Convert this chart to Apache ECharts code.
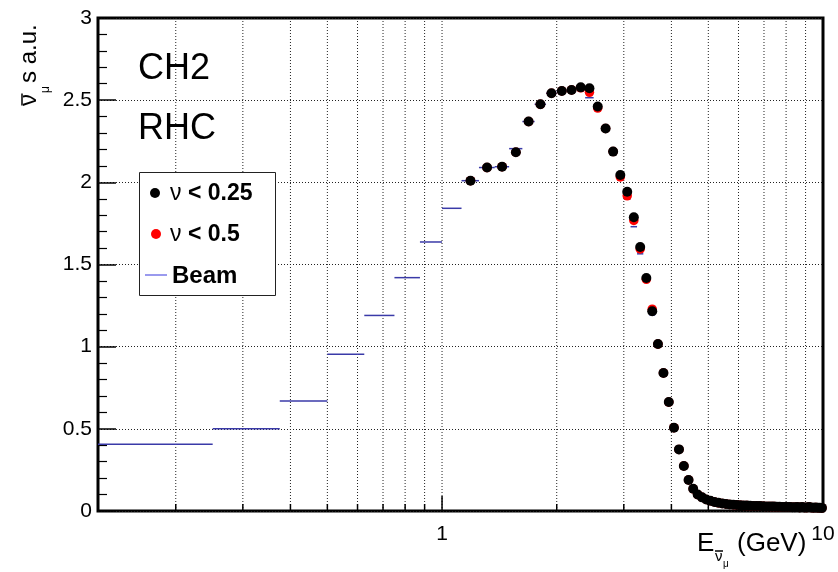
<!DOCTYPE html>
<html><head><meta charset="utf-8">
<script src="https://cdn.jsdelivr.net/npm/echarts@6/dist/echarts.min.js"></script>
<style>html,body{margin:0;padding:0;background:#fff}#c{width:838px;height:572px}</style>
</head><body><div id="c"></div>
<script>
// ---- data ----
const binWidth = 0.125; // GeV
const beamLowCenters = [0.1875, 0.3125, 0.4375, 0.5625, 0.6875, 0.8125, 0.9375, 1.0625];
const beamLowValues  = [0.406, 0.500, 0.670, 0.954, 1.190, 1.420, 1.637, 1.842];
const dataCenters = [1.1875,1.3125,1.4375,1.5625,1.6875,1.8125,1.9375,2.0625,2.1875,2.3125,
  2.4375,2.5625,2.6875,2.8125,2.9375,3.0625,3.1875,3.3125,3.4375,3.5625,
  3.6875,3.8125,3.9375,4.0625,4.1875,4.3125,4.4375,4.5625,4.6875,4.8125,
  4.9375,5.0625,5.1875,5.3125,5.4375,5.5625,5.6875,5.8125,5.9375,6.0625,
  6.1875,6.3125,6.4375,6.5625,6.6875,6.8125,6.9375,7.0625,7.1875,7.3125,
  7.4375,7.5625,7.6875,7.8125,7.9375,8.0625,8.1875,8.3125,8.4375,8.5625,
  8.6875,8.8125,8.9375,9.0625,9.1875,9.3125,9.4375,9.5625,9.6875,9.8125,9.9375];
const nuLt025 = [2.010,2.090,2.095,2.183,2.370,2.475,2.542,2.556,2.562,2.578,
  2.572,2.462,2.328,2.187,2.045,1.943,1.787,1.606,1.418,1.215,
  1.016,0.840,0.663,0.507,0.375,0.274,0.189,0.135,0.100,0.083,
  0.070,0.062,0.055,0.050,0.046,0.043,0.040,0.038,0.036,0.035,
  0.034,0.033,0.032,0.031,0.030,0.030,0.029,0.028,0.028,0.027,
  0.027,0.026,0.026,0.025,0.025,0.024,0.024,0.023,0.023,0.025,
  0.022,0.024,0.022,0.021,0.024,0.021,0.020,0.022,0.020,0.020,0.019];
const nuLt05 = [2.010,2.090,2.095,2.183,2.370,2.475,2.542,2.556,2.562,2.575,
  2.548,2.452,2.328,2.187,2.033,1.918,1.768,1.595,1.410,1.228,
  1.016,0.840,0.663,0.507,0.375,0.274,0.189,0.135,0.100,0.083,
  0.070,0.062,0.055,0.050,0.046,0.043,0.040,0.038,0.036,0.035,
  0.034,0.033,0.032,0.031,0.030,0.030,0.029,0.028,0.028,0.027,
  0.027,0.026,0.026,0.025,0.025,0.024,0.024,0.023,0.023,0.025,
  0.022,0.024,0.022,0.021,0.024,0.021,0.020,0.022,0.020,0.020,0.019];
const beamHigh = [2.010,2.090,2.095,2.205,2.370,2.475,2.542,2.556,2.562,2.578,
  2.515,2.445,2.328,2.187,2.045,1.900,1.730,1.565,1.410,1.193,
  1.016,0.840,0.663,0.507,0.375,0.274,0.189,0.135,0.100,0.083,
  0.070,0.062,0.055,0.050,0.046,0.043,0.040,0.038,0.036,0.035,
  0.034,0.033,0.032,0.031,0.030,0.030,0.029,0.028,0.028,0.027,
  0.027,0.026,0.026,0.025,0.025,0.024,0.024,0.023,0.023,0.025,
  0.022,0.024,0.022,0.021,0.024,0.021,0.020,0.022,0.020,0.020,0.019];
const xGridTicks = [0.2,0.3,0.4,0.5,0.6,0.7,0.8,0.9,1,2,3,4,5,6,7,8,9];
const xMajorTicks = [1, 10];
const xMin = 0.125, xMax = 10;
const yMin = 0, yMax = 3, yStep = 0.5;

// ---- chart ----
const FONT = '"Liberation Sans", Arial, Helvetica, sans-serif';
const chart = echarts.init(document.getElementById('c'), null, {renderer: 'canvas'});

const beamData = beamLowCenters.map((c, i) => [c, beamLowValues[i]])
  .concat(dataCenters.map((c, i) => [c, beamHigh[i]]));
const gridData = xGridTicks.map(v => [v, yMin]);
const tickData = xGridTicks.concat([10]).map(v => [v, yMin]);

const option = {
  animation: false,
  backgroundColor: '#fff',
  grid: {left: 98, top: 18, right: 15, bottom: 61, show: true, borderColor: '#000', borderWidth: 3, backgroundColor: 'transparent'},
  xAxis: {
    type: 'log', logBase: 10, min: xMin, max: xMax,
    axisLine: {show: false}, axisTick: {show: false}, splitLine: {show: false}, minorTick: {show: false},
    axisLabel: {
      show: true, margin: 13, fontSize: 21, color: '#000', fontFamily: FONT,
      showMinLabel: false,
      formatter: v => {
        const l = Math.log10(v);
        return (Math.abs(l - Math.round(l)) < 1e-6 && v >= 1) ? String(Math.round(v)) : '';
      }
    }
  },
  yAxis: {
    type: 'value', min: yMin, max: yMax, interval: yStep,
    axisLine: {show: false},
    axisTick: {show: true, inside: true, length: 18, lineStyle: {color: '#000', width: 1.5}},
    minorTick: {show: true, splitNumber: 5, length: 9, lineStyle: {color: '#000', width: 1.2}},
    splitLine: {show: true, lineStyle: {color: '#222', width: 1, type: [1, 2]}},
    axisLabel: {margin: 6, fontSize: 21, color: '#000', fontFamily: FONT}
  },
  series: [
    { // vertical dotted grid lines
      type: 'custom', z: 1, silent: true, clip: true,
      data: gridData, encode: {x: 0, y: 1},
      renderItem: (params, api) => {
        const v = api.value(0);
        const a = api.coord([v, yMin]), b = api.coord([v, yMax]);
        return {type: 'line', shape: {x1: a[0], y1: a[1], x2: b[0], y2: b[1]},
          style: {stroke: '#222', lineWidth: 1, lineDash: [1, 2]}};
      }
    },
    { // x-axis ticks (inside)
      type: 'custom', z: 5, silent: true, clip: false,
      data: tickData, encode: {x: 0, y: 1},
      renderItem: (params, api) => {
        const v = api.value(0);
        const a = api.coord([v, yMin]);
        const major = xMajorTicks.includes(v);
        const len = major ? 15 : 7;
        return {type: 'line', shape: {x1: a[0], y1: a[1], x2: a[0], y2: a[1] - len},
          style: {stroke: '#000', lineWidth: 1.5}};
      }
    },
    { // Beam histogram (horizontal bin lines)
      name: 'Beam', type: 'custom', z: 2, silent: true, clip: true,
      data: beamData, encode: {x: 0, y: 1},
      renderItem: (params, api) => {
        const c = api.value(0), v = api.value(1);
        const a = api.coord([c - binWidth / 2, v]);
        const b = api.coord([c + binWidth / 2, v]);
        return {type: 'line', shape: {x1: a[0], y1: a[1], x2: b[0], y2: b[1]},
          style: {stroke: '#3a3aa8', lineWidth: 1.5}};
      }
    },
    {
      name: 'ν < 0.5', type: 'scatter', z: 3, symbol: 'circle', symbolSize: 9.5,
      itemStyle: {color: '#ff0000', opacity: 1}, silent: true,
      data: dataCenters.map((c, i) => [c, nuLt05[i]])
    },
    {
      name: 'ν < 0.25', type: 'scatter', z: 4, symbol: 'circle', symbolSize: 10,
      itemStyle: {color: '#000000', opacity: 1}, silent: true,
      data: dataCenters.map((c, i) => [c, nuLt025[i]])
    }
  ],
  graphic: [
    // labels
    {type: 'text', x: 138, y: 69.5, z: 100, style: {text: 'CH2', font: '36px ' + FONT, fill: '#000', align: 'left', verticalAlign: 'middle'}},
    {type: 'text', x: 138, y: 129.5, z: 100, style: {text: 'RHC', font: '36px ' + FONT, fill: '#000', align: 'left', verticalAlign: 'middle'}},
    // legend box
    {type: 'rect', z: 100, shape: {x: 139.5, y: 172.5, width: 136, height: 123},
      style: {fill: '#fff', stroke: '#222', lineWidth: 1}},
    {type: 'circle', z: 101, shape: {cx: 155, cy: 193, r: 5}, style: {fill: '#000'}},
    {type: 'text', x: 170, y: 194, z: 101, style: {
      text: '{n|ν}{b| < 0.25}', verticalAlign: 'middle', align: 'left',
      rich: {n: {font: '23px ' + FONT, fill: '#000'}, b: {font: 'bold 23px ' + FONT, fill: '#000'}}}},
    {type: 'circle', z: 101, shape: {cx: 156, cy: 234, r: 5}, style: {fill: '#ff0000'}},
    {type: 'text', x: 170, y: 235, z: 101, style: {
      text: '{n|ν}{b| < 0.5}', verticalAlign: 'middle', align: 'left',
      rich: {n: {font: '23px ' + FONT, fill: '#000'}, b: {font: 'bold 23px ' + FONT, fill: '#000'}}}},
    {type: 'line', z: 101, shape: {x1: 145, y1: 275, x2: 167, y2: 275}, style: {stroke: '#7878e8', lineWidth: 1.5}},
    {type: 'text', x: 172, y: 276, z: 101, style: {text: 'Beam', font: 'bold 24px ' + FONT, fill: '#000', align: 'left', verticalAlign: 'middle'}},
    // x-axis title: E_{ν̄_μ} (GeV)
    {type: 'group', z: 100, children: [
      {type: 'text', x: 697, y: 553 - 9, style: {text: 'E', font: '26px ' + FONT, fill: '#000', verticalAlign: 'middle'}},
      {type: 'text', x: 715, y: 562 - 5, style: {text: 'ν', font: '15px ' + FONT, fill: '#000', verticalAlign: 'middle'}},
      {type: 'line', shape: {x1: 715, y1: 551, x2: 723, y2: 551}, style: {stroke: '#000', lineWidth: 1.5}},
      {type: 'text', x: 723, y: 568 - 3.5, style: {text: 'μ', font: '10px ' + FONT, fill: '#000', verticalAlign: 'middle'}},
      {type: 'text', x: 737, y: 553 - 9, style: {text: '(GeV)', font: '26px ' + FONT, fill: '#000', verticalAlign: 'middle'}}
    ]},
    // y-axis title: ν̄_μ s a.u. (rotated)
    {type: 'group', x: 38, y: 106, rotation: Math.PI / 2, z: 100, children: [
      {type: 'text', x: 0, y: -8.3, style: {text: 'ν', font: '24px ' + FONT, fill: '#000', verticalAlign: 'middle'}},
      {type: 'line', shape: {x1: 0.5, y1: -16, x2: 12.5, y2: -16}, style: {stroke: '#000', lineWidth: 1.5}},
      {type: 'text', x: 13, y: 8, style: {text: 'μ', font: '12px ' + FONT, fill: '#000', verticalAlign: 'middle'}},
      {type: 'text', x: 23, y: -8.3, style: {text: 's a.u.', font: '24px ' + FONT, fill: '#000', verticalAlign: 'middle'}}
    ]}
  ]
};
chart.setOption(option);
</script>
</body></html>
